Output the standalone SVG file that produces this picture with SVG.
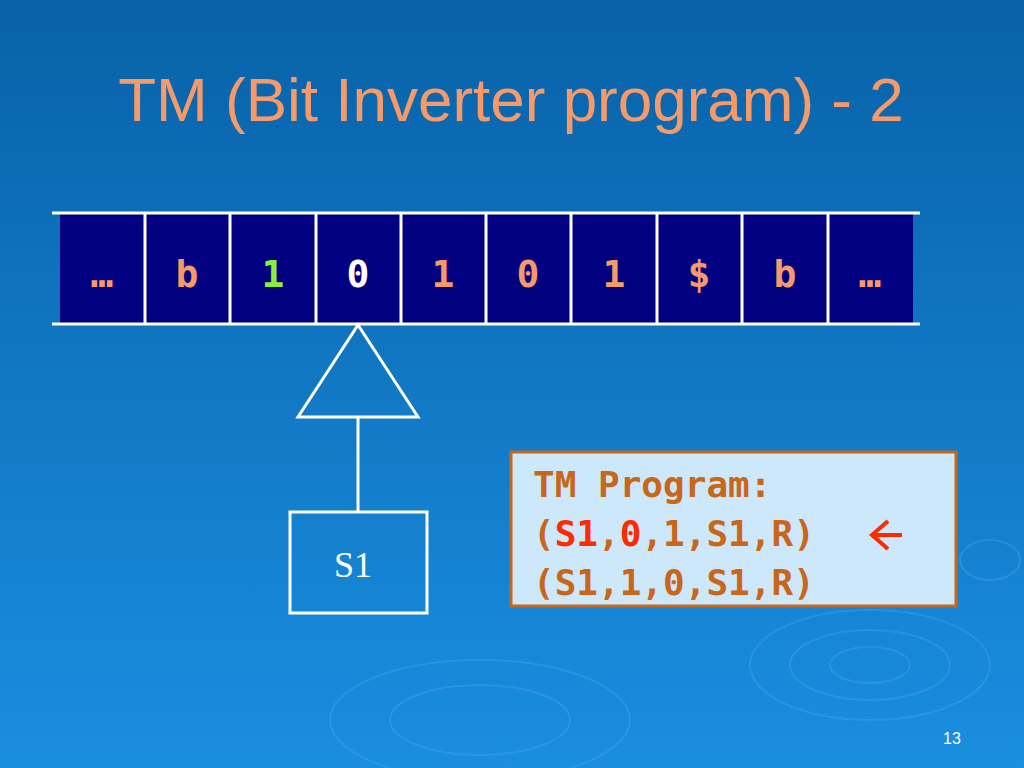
<svg xmlns="http://www.w3.org/2000/svg" width="1024" height="768" viewBox="0 0 1024 768">
<defs>
<linearGradient id="bg" x1="0" y1="0" x2="0" y2="1">
<stop offset="0" stop-color="#0862a8"/><stop offset="1" stop-color="#1a8ee0"/>
</linearGradient>
<style>
.cell{fill:#000080;}
.t{font-family:"DejaVu Sans Mono","Liberation Mono",monospace;font-weight:bold;font-size:38px;text-anchor:middle;fill:#f79a6a;}
.p{font-family:"DejaVu Sans Mono","Liberation Mono",monospace;font-weight:bold;font-size:36px;fill:#c8661a;}
.w{stroke:#fff;stroke-width:3;fill:none;}
</style>
</defs>
<rect width="1024" height="768" fill="url(#bg)"/>
<g fill="none" stroke="#4aa8ee" stroke-width="2" opacity="0.35">
<ellipse cx="870" cy="665" rx="120" ry="55"/><ellipse cx="870" cy="665" rx="80" ry="35"/><ellipse cx="870" cy="665" rx="40" ry="18"/>
<ellipse cx="480" cy="720" rx="150" ry="60"/><ellipse cx="480" cy="720" rx="90" ry="35"/>
<ellipse cx="990" cy="560" rx="30" ry="20"/>
</g>
<text x="511" y="121" font-family="Liberation Sans, Arial, sans-serif" font-size="62" fill="#f79a6a" text-anchor="middle">TM (Bit Inverter program) - 2</text>
<g id="tape">
<rect class="cell" x="60" y="214" width="853" height="110"/>
<g class="w">
<line x1="52" y1="213" x2="920" y2="213"/><line x1="52" y1="324" x2="920" y2="324"/>
<line x1="145" y1="213" x2="145" y2="324"/><line x1="230" y1="213" x2="230" y2="324"/>
<line x1="316" y1="213" x2="316" y2="324"/><line x1="401" y1="213" x2="401" y2="324"/>
<line x1="486" y1="213" x2="486" y2="324"/><line x1="571" y1="213" x2="571" y2="324"/>
<line x1="657" y1="213" x2="657" y2="324"/><line x1="742" y1="213" x2="742" y2="324"/>
<line x1="828" y1="213" x2="828" y2="324"/>
</g>
<text class="t" x="102" y="287">…</text>
<text class="t" x="187" y="287">b</text>
<text class="t" x="273" y="287" style="fill:#88f038">1</text>
<text class="t" x="358" y="287" style="fill:#fff">0</text>
<text class="t" x="443" y="287">1</text>
<text class="t" x="528" y="287">0</text>
<text class="t" x="614" y="287">1</text>
<text class="t" x="699" y="287">$</text>
<text class="t" x="785" y="287">b</text>
<text class="t" x="870" y="287">…</text>
</g>
<g id="connectors">
<polygon class="w" points="358,325 418,417 298,417"/>
<line class="w" x1="358" y1="417" x2="358" y2="512"/>
</g>
<g id="s1">
<rect class="w" x="290" y="512" width="137" height="101"/>
<text x="353" y="577" font-family="Liberation Serif, serif" font-size="36" fill="#fff" text-anchor="middle">S1</text>
</g>
<g id="program">
<rect x="511" y="452" width="445" height="154" fill="#cce8fa" stroke="#c8661a" stroke-width="3"/>
<text class="p" x="533" y="497">TM Program:</text>
<text class="p" x="533" y="546">(<tspan fill="#ff2a00">S1</tspan>,<tspan fill="#ff2a00">0</tspan>,1,S1,R)</text>
<path d="M902,535 H872 M888,521 L872,535 L888,549" fill="none" stroke="#ff2a00" stroke-width="4"/>
<text class="p" x="533" y="595">(S1,1,0,S1,R)</text>
</g>
<text x="952" y="744" font-family="Liberation Sans, Arial, sans-serif" font-size="16" fill="#fff" text-anchor="middle">13</text>
</svg>
